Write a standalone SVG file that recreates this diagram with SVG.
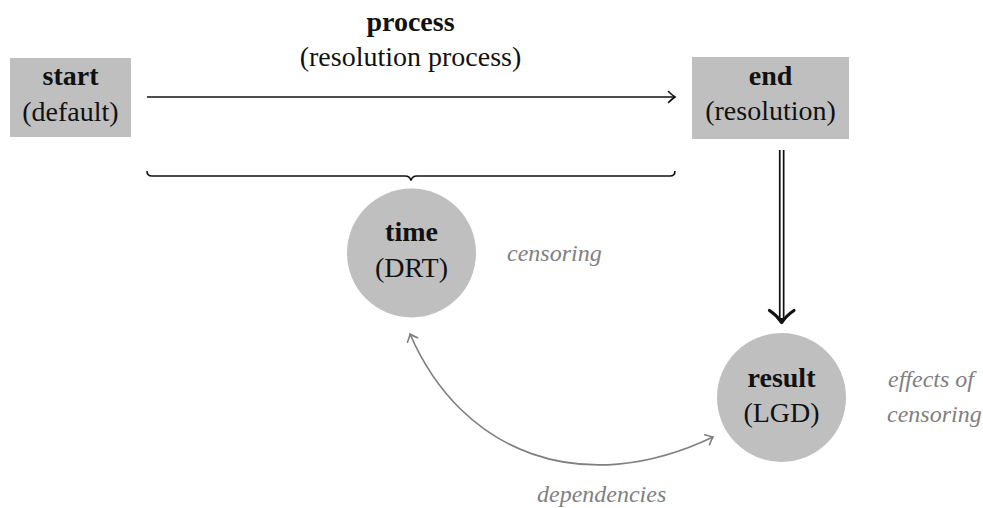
<svg xmlns="http://www.w3.org/2000/svg" width="983" height="508" viewBox="0 0 983 508">
<style>
.box{fill:#bfbfbf}
.node{font-family:"Liberation Serif","Times New Roman",serif;font-size:28px;fill:#111;text-anchor:middle}
.b{font-weight:bold}
.note{font-family:"Liberation Serif","Times New Roman",serif;font-size:24px;font-style:italic;fill:#808080}
.blk{fill:none;stroke:#111;stroke-width:1.6}
.gry{fill:none;stroke:#808080;stroke-width:1.7}
</style>
<defs>
<marker id="toBlack" markerUnits="userSpaceOnUse" viewBox="-8 -7 10 14" refX="0" refY="0" markerWidth="10" markerHeight="14" orient="auto" overflow="visible">
<path d="M-6.5,-5.5 Q-2,-1.2 0,0 Q-2,1.2 -6.5,5.5" fill="none" stroke="#111" stroke-width="1.6" stroke-linecap="round"/>
</marker>
<marker id="toGray" markerUnits="userSpaceOnUse" viewBox="-8 -7 10 14" refX="0" refY="0" markerWidth="10" markerHeight="14" orient="auto-start-reverse" overflow="visible">
<path d="M-6.5,-5.5 Q-2,-1.2 0,0 Q-2,1.2 -6.5,5.5" fill="none" stroke="#808080" stroke-width="1.6" stroke-linecap="round"/>
</marker>
</defs>

<g id="connectors">
<line class="blk" x1="147" y1="97" x2="675" y2="97" marker-end="url(#toBlack)"/>
<path class="blk" stroke-width="1.3" d="M147,171 Q147,176 152,176 L405,176 Q410,176 411,180.5 Q412,176 417,176 L670,176 Q675,176 675,171"/>
<line x1="781.7" y1="150" x2="781.7" y2="320" stroke="#111" stroke-width="5.6"/>
<line x1="781.7" y1="150" x2="781.7" y2="318" stroke="#fff" stroke-width="2.2"/>
<path d="M769.5,310.5 Q777,315.5 781.7,322.5 Q786.4,315.5 794,310.5" fill="none" stroke="#111" stroke-width="3.2" stroke-linecap="round" stroke-linejoin="round"/>
<path class="gry" d="M410,334 C462,454 582.5,499.4 713,437" marker-start="url(#toGray)" marker-end="url(#toGray)"/>
</g>

<g id="start">
<rect class="box" x="10" y="58" width="121" height="79"/>
<text class="node b" x="70.5" y="85">start</text>
<text class="node" x="70.5" y="120.5">(default)</text>
</g>

<g id="end">
<rect class="box" x="692" y="57" width="157" height="82"/>
<text class="node b" x="770.5" y="85">end</text>
<text class="node" x="770.5" y="120">(resolution)</text>
</g>

<g id="process">
<text class="node b" x="410.5" y="31">process</text>
<text class="node" x="410.5" y="66">(resolution process)</text>
</g>

<g id="time">
<circle class="box" cx="411.5" cy="253" r="64.5"/>
<text class="node b" x="411.5" y="241">time</text>
<text class="node" x="411.5" y="277">(DRT)</text>
</g>

<g id="result">
<circle class="box" cx="781.5" cy="397.5" r="64.5"/>
<text class="node b" x="781.5" y="387">result</text>
<text class="node" x="781.5" y="422">(LGD)</text>
</g>

<g id="notes">
<text class="note" x="507" y="261">censoring</text>
<text class="note" x="888" y="387">effects of</text>
<text class="note" x="887" y="422">censoring</text>
<text class="note" x="537" y="502">dependencies</text>
</g>
</svg>
